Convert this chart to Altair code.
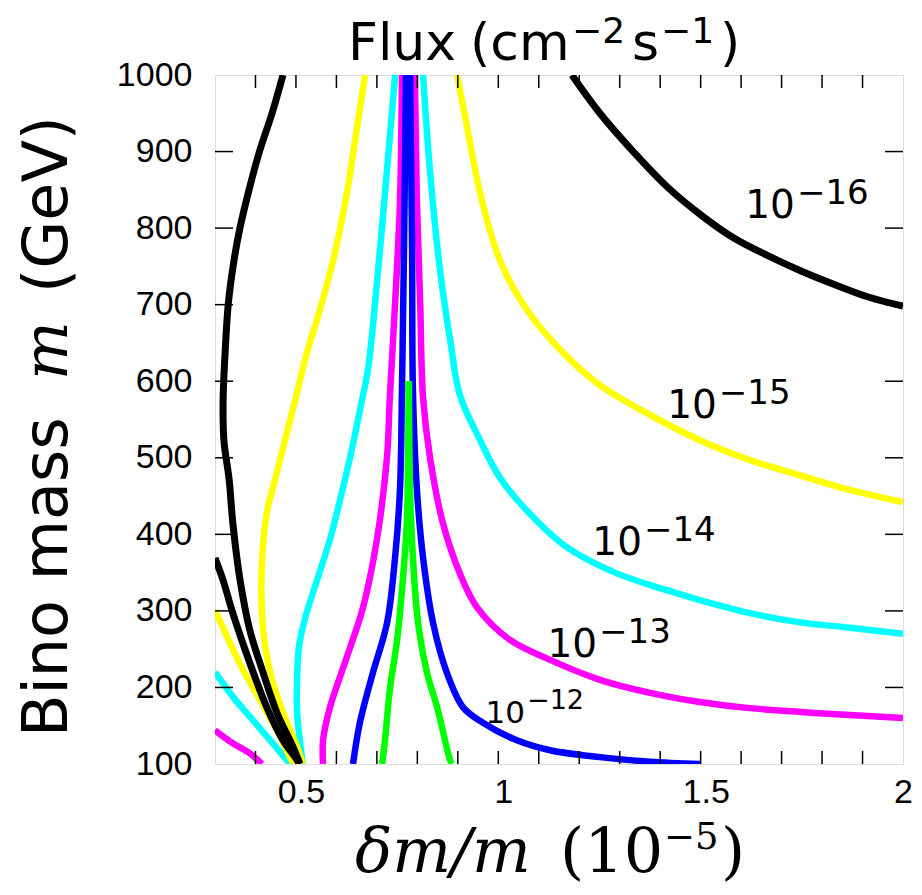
import altair as alt
import pandas as pd

# ---------------- data ----------------
# contour curves: x values [dm/m in 1e-5], y values [Bino mass, GeV]
blackA_x = [0.468, 0.441, 0.411, 0.386, 0.362, 0.347, 0.333, 0.325, 0.320, 0.322, 0.335, 0.344, 0.362, 0.386, 0.419, 0.453, 0.493, 0.510]
blackA_y = [1000, 950, 902, 854, 801, 758, 702, 637, 575, 523, 471, 415, 340, 275, 219, 167, 122, 100]
blackB_x = [0.300, 0.320, 0.344, 0.386, 0.428, 0.468, 0.503, 0.508]
blackB_y = [369, 340, 297, 232, 174, 131, 105, 100]
blackP_x = [1.182, 1.251, 1.335, 1.417, 1.501, 1.582, 1.666, 1.748, 1.832, 1.914, 2.0]
blackP_y = [1000, 950, 899, 854, 817, 787, 764, 744, 726, 710, 698]

yellowC_x = [0.300, 0.330, 0.369, 0.411, 0.453, 0.485, 0.495]
yellowC_y = [301, 266, 223, 184, 144, 109, 100]
yellowD_x = [0.671, 0.651, 0.626, 0.592, 0.559, 0.527, 0.498, 0.473, 0.448, 0.428, 0.416, 0.416, 0.424, 0.441, 0.468, 0.503, 0.517]
yellowD_y = [1000, 932, 846, 758, 693, 637, 575, 523, 471, 428, 363, 297, 253, 210, 167, 122, 100]
yellowO_x = [0.898, 0.923, 0.955, 1.004, 1.071, 1.170, 1.251, 1.375, 1.498, 1.622, 1.746, 1.869, 2.0]
yellowO_y = [1000, 932, 846, 758, 693, 632, 595, 556, 523, 497, 477, 458, 442]

cyanE_x = [0.300, 0.344, 0.394, 0.443, 0.485, 0.490]
cyanE_y = [220, 188, 157, 127, 101, 100]
cyanF_x = [0.745, 0.725, 0.703, 0.678, 0.663, 0.634, 0.609, 0.584, 0.552, 0.525, 0.508, 0.503, 0.503, 0.517]
cyanF_y = [1000, 876, 745, 615, 575, 501, 445, 393, 340, 295, 255, 215, 167, 100]
cyanN_x = [0.814, 0.831, 0.856, 0.881, 0.905, 0.955, 1.004, 1.078, 1.170, 1.293, 1.417, 1.498, 1.622, 1.746, 1.869, 2.0]
cyanN_y = [1000, 876, 745, 654, 582, 523, 474, 427, 383, 349, 327, 314, 297, 285, 278, 270]

magentaG_x = [0.300, 0.344, 0.386, 0.416]
magentaG_y = [144, 127, 114, 100]
magentaH_x = [0.762, 0.757, 0.745, 0.732, 0.725, 0.700, 0.666, 0.626, 0.584, 0.567, 0.567]
magentaH_y = [1000, 833, 702, 579, 501, 393, 305, 240, 174, 131, 100]
magentaM_x = [0.794, 0.799, 0.807, 0.814, 0.831, 0.863, 0.905, 0.947, 1.029, 1.128, 1.251, 1.375, 1.498, 1.622, 1.746, 1.869, 2.0]
magentaM_y = [1000, 833, 702, 579, 501, 415, 349, 305, 262, 236, 210, 193, 181, 173, 168, 164, 160]

blueI_x = [0.772, 0.767, 0.762, 0.757, 0.745, 0.725, 0.690, 0.658, 0.641]
blueI_y = [1000, 771, 589, 458, 370, 284, 219, 154, 100]
blueJ_x = [0.782, 0.787, 0.789, 0.799, 0.814, 0.839, 0.873, 0.913, 0.962, 1.046, 1.128, 1.251, 1.375, 1.498]
blueJ_y = [1000, 771, 589, 458, 370, 284, 219, 174, 154, 131, 118, 109, 103, 100]

greenL_x = [0.713, 0.720, 0.732, 0.750, 0.762, 0.774, 0.777, 0.779]
greenL_y = [100, 131, 197, 262, 327, 415, 501, 600]
greenR_x = [0.779, 0.782, 0.789, 0.802, 0.824, 0.849, 0.881, 0.886]
greenR_y = [600, 458, 370, 284, 219, 174, 105, 100]

# drawing order = z-order
curves = [
    ("#00FFFF", cyanE_x, cyanE_y), ("#00FFFF", cyanF_x, cyanF_y), ("#00FFFF", cyanN_x, cyanN_y),
    ("#FFFF00", yellowC_x, yellowC_y), ("#FFFF00", yellowD_x, yellowD_y), ("#FFFF00", yellowO_x, yellowO_y),
    ("#FF00FF", magentaG_x, magentaG_y), ("#FF00FF", magentaH_x, magentaH_y), ("#FF00FF", magentaM_x, magentaM_y),
    ("#000000", blackA_x, blackA_y), ("#000000", blackB_x, blackB_y), ("#000000", blackP_x, blackP_y),
    ("#0000FF", blueI_x, blueI_y), ("#0000FF", blueJ_x, blueJ_y),
    ("#00FF00", greenL_x, greenL_y), ("#00FF00", greenR_x, greenR_y),
]

# contour labels: 10^exp placed at (x, y) = junction of "10" and exponent, on the baseline
label_exp = ["\u221216", "\u221215", "\u221214", "\u221213", "\u221212"]
label_x = [1.733, 1.540, 1.355, 1.244, 1.066]
label_y = [813, 552, 373, 240, 154]
label_base_size = [39, 39, 39, 39, 31]
label_sup_size = [34, 34, 34, 34, 27]

x_ticks = [0.4, 0.5, 0.6, 0.7, 0.8, 0.9, 1.0, 1.1, 1.2, 1.3, 1.4, 1.5, 1.6, 1.7, 1.8, 1.9]
x_labels = [0.5, 1.0, 1.5, 2.0]
y_ticks = [200, 300, 400, 500, 600, 700, 800, 900]
y_labels = [100, 200, 300, 400, 500, 600, 700, 800, 900, 1000]

# ---------------- chart ----------------
W, H = 688, 689
xs = alt.Scale(domain=[0.3, 2.0], nice=False, zero=False)
ys = alt.Scale(domain=[100, 1000], nice=False, zero=False)
ax_x = alt.Axis(values=x_labels, format="~g", title=None, grid=False, domain=False,
                ticks=False, tickSize=0, labelFont="Liberation Sans", labelFontSize=34,
                labelColor="black", labelPadding=11,
                labelOffset=alt.condition("datum.value >= 2", alt.value(0), alt.value(5)),
                labelFlush=False, labelOverlap=False)
ax_y = alt.Axis(values=y_labels, format="d", title=None, grid=False, domain=False,
                ticks=False, tickSize=0, labelFont="Liberation Sans", labelFontSize=34,
                labelColor="black", labelPadding=23, labelFlush=False, labelOverlap=False)


def X(f):
    return alt.X(f, scale=xs, axis=ax_x, title=None)


def Y(f):
    return alt.Y(f, scale=ys, axis=ax_y, title=None)


layers = []
for col, cx, cy in curves:
    d = pd.DataFrame({"x": cx, "y": cy, "i": list(range(len(cx)))})
    sw = 7 if col == "#000000" else 6.5
    layers.append(
        alt.Chart(d).mark_line(color=col, strokeWidth=sw, clip=True, strokeJoin="round",
                               interpolate="catmull-rom")
        .encode(x=X("x:Q"), y=Y("y:Q"), order=alt.Order("i:Q"))
    )

# inward ticks on all four sides
xt = pd.DataFrame({"x": x_ticks})
yt = pd.DataFrame({"y": y_ticks})
tick_style = dict(color="black", strokeWidth=1.5)
layers.append(alt.Chart(xt).mark_rule(**tick_style).encode(x=X("x:Q"), y=alt.value(H), y2=alt.value(H - 13)))
layers.append(alt.Chart(xt).mark_rule(**tick_style).encode(x=X("x:Q"), y=alt.value(0), y2=alt.value(13)))
layers.append(alt.Chart(yt).mark_rule(**tick_style).encode(y=Y("y:Q"), x=alt.value(0), x2=alt.value(18)))
layers.append(alt.Chart(yt).mark_rule(**tick_style).encode(y=Y("y:Q"), x=alt.value(W), x2=alt.value(W - 18)))

# contour labels
lab = pd.DataFrame({"x": label_x, "y": label_y, "e": label_exp,
                    "b": ["10"] * len(label_x), "bs": label_base_size, "ss": label_sup_size})
layers.append(alt.Chart(lab).mark_text(font="DejaVu Sans", align="right", baseline="alphabetic", color="black").encode(
    x=X("x:Q"), y=Y("y:Q"), text="b:N", size=alt.Size("bs:Q", scale=None, legend=None)))
layers.append(alt.Chart(lab).mark_text(font="DejaVu Sans", align="left", baseline="alphabetic", color="black",
                                       dx=2, dy=-14).encode(
    x=X("x:Q"), y=Y("y:Q"), text="e:N", size=alt.Size("ss:Q", scale=None, legend=None)))


def txt(s, x, y, size, font="DejaVu Sans", style="normal", angle=0, align="left"):
    return alt.Chart(pd.DataFrame({"t": [s]})).mark_text(
        font=font, fontSize=size, fontStyle=style, angle=angle, align=align,
        baseline="alphabetic", color="black").encode(
        x=alt.value(x), y=alt.value(y), text="t:N")


# title: Flux (cm^-2 s^-1)   (positions relative to the plot's top-left corner)
layers += [
    txt("Flux", 133, -15, 52),
    txt("(cm", 255, -15, 52),
    txt("\u22122", 357, -32, 36),
    txt("s", 417, -15, 52),
    txt("\u22121", 446, -32, 36),
    txt(")", 505, -15, 52),
]
# x title: dm/m (10^-5)
layers += [
    txt("\u03b4m/m", 140, 797, 62, font="DejaVu Serif", style="italic"),
    txt("(10", 345, 797, 62, font="DejaVu Serif"),
    txt("\u22125", 449, 774, 37, font="DejaVu Serif"),
    txt(")", 506, 797, 62, font="DejaVu Serif"),
]
# y title: Bino mass m (GeV), rotated
layers += [
    txt("Bino mass", -148, 662, 62, angle=270),
    txt("m", -148, 305, 62, font="DejaVu Serif", style="italic", angle=270),
    txt("(GeV)", -148, 218, 62, angle=270),
]

chart = alt.layer(*layers).properties(
    width=W, height=H,
    padding={"left": 207, "top": 67, "right": 11, "bottom": 123},
    autosize=alt.AutoSizeParams(type="none"),
).configure_view(stroke="black", strokeWidth=1.5).configure(background="white")

chart.save("out.html", embed_options={"renderer": "svg", "actions": False})
